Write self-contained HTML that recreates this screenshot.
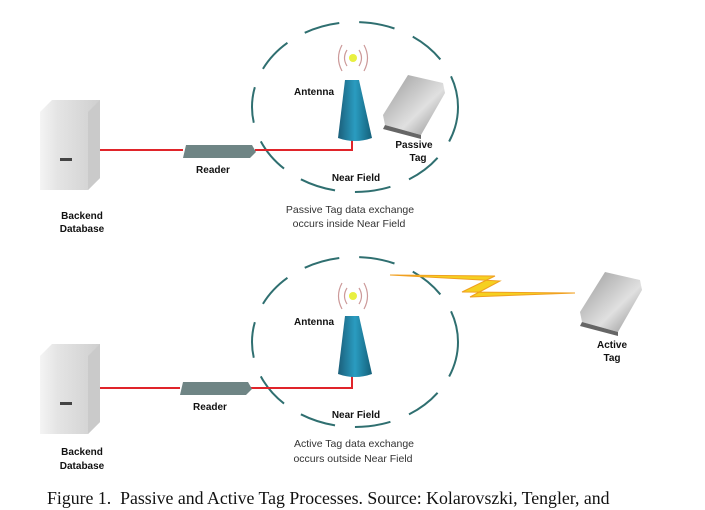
<!DOCTYPE html>
<html><head><meta charset="utf-8"><style>
html,body{margin:0;padding:0;background:#fff;width:705px;height:510px;overflow:hidden}
svg text{font-family:"Liberation Sans",sans-serif}
</style></head><body>
<svg width="705" height="510" viewBox="0 0 705 510" xmlns="http://www.w3.org/2000/svg">
<defs>
<linearGradient id="srv" x1="0" x2="1"><stop offset="0" stop-color="#f4f4f4"/><stop offset="0.3" stop-color="#e4e4e4"/><stop offset="1" stop-color="#cfcfcf"/></linearGradient>
<linearGradient id="ant" x1="0" x2="1"><stop offset="0" stop-color="#1b5e7a"/><stop offset="0.5" stop-color="#2a9cc0"/><stop offset="1" stop-color="#14607a"/></linearGradient>
<linearGradient id="tag" x1="0" y1="0" x2="1" y2="1"><stop offset="0" stop-color="#999"/><stop offset="0.6" stop-color="#e0e0e0"/><stop offset="1" stop-color="#888"/></linearGradient>
<g id="server">
<path d="M40,112 L52,100 L100,100 L100,178 L88,190 L40,190 Z" fill="url(#srv)"/>
<path d="M88,112 L100,100 L100,178 L88,190 Z" fill="#cacaca"/>
<rect x="60" y="158" width="12" height="3" fill="#444"/>
</g>
<g id="antenna">
<path d="M345,0 L359,0 L372,58 Q355,64 338,58 Z" fill="url(#ant)"/>
</g>
<g id="waves" fill="none" stroke="#c99" stroke-width="1.2">
<path d="M-6,-8 Q-11,0 -6,8"/><path d="M6,-8 Q11,0 6,8"/>
<path d="M-11,-13 Q-18,0 -11,13"/><path d="M11,-13 Q18,0 11,13"/>
<circle r="4" fill="#e8f040" stroke="none"/>
</g>
<g id="tagshape">
<path d="M0,40 L25,0 L60,8 L62,18 L38,60 L2,50 Z" fill="url(#tag)"/>
<path d="M2,50 L38,60 L38,64 L0,54 Z" fill="#666"/>
</g>
</defs>
<!-- top -->
<ellipse cx="355" cy="107" rx="103" ry="85" fill="none" stroke="#2f6f70" stroke-width="2" stroke-dasharray="36 20"/>
<use href="#server"/>
<path d="M100,150 L183,150 M255,150 L352,150 L352,138" stroke="#e0242a" stroke-width="2" fill="none"/>
<path d="M186,145 L252,145 L256,152 L250,158 L183,158 Z" fill="#6f8585"/>
<use href="#antenna" transform="translate(0,80)"/>
<use href="#waves" transform="translate(353,58)"/>
<use href="#tagshape" transform="translate(383,75)"/>
<g font-size="10" font-weight="bold" text-anchor="middle" fill="#111">
<text x="314" y="95">Antenna</text><text x="414" y="148">Passive</text><text x="418" y="161">Tag</text>
<text x="213" y="173">Reader</text><text x="356" y="181">Near Field</text>
<text x="82" y="219">Backend</text><text x="82" y="232">Database</text>
</g>
<g font-size="10.5" text-anchor="middle" fill="#333"><text x="350" y="213">Passive Tag data exchange</text><text x="349" y="227">occurs inside Near Field</text></g>
<!-- bottom -->
<ellipse cx="355" cy="342" rx="103" ry="85" fill="none" stroke="#2f6f70" stroke-width="2" stroke-dasharray="36 20"/>
<use href="#server" transform="translate(0,244)"/>
<path d="M100,388 L180,388 M250,388 L352,388 L352,375" stroke="#e0242a" stroke-width="2" fill="none"/>
<path d="M183,382 L248,382 L252,389 L246,395 L180,395 Z" fill="#6f8585"/>
<use href="#antenna" transform="translate(0,316)"/>
<use href="#waves" transform="translate(353,296)"/>
<path d="M390,275 L495,276 L462,292 L575,293 L470,297 L500,281 Z" fill="#f5d020" stroke="#f0a020" stroke-width="1"/>
<use href="#tagshape" transform="translate(580,272)"/>
<g font-size="10" font-weight="bold" text-anchor="middle" fill="#111">
<text x="314" y="325">Antenna</text><text x="612" y="348">Active</text><text x="612" y="361">Tag</text>
<text x="210" y="410">Reader</text><text x="356" y="418">Near Field</text>
<text x="82" y="455">Backend</text><text x="82" y="469">Database</text>
</g>
<g font-size="10.5" text-anchor="middle" fill="#333"><text x="354" y="447">Active Tag data exchange</text><text x="353" y="462">occurs outside Near Field</text></g>
<text x="47" y="504" font-size="17.8" fill="#111" xml:space="preserve" style="font-family:'Liberation Serif',serif">Figure 1.  Passive and Active Tag Processes. Source: Kolarovszki, Tengler, and</text>
</svg>
</body></html>
